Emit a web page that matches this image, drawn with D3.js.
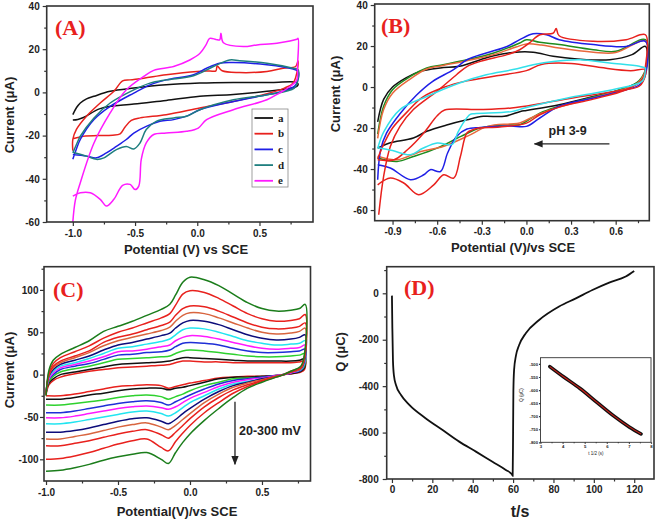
<!DOCTYPE html>
<html><head><meta charset="utf-8">
<script src="https://cdn.jsdelivr.net/npm/d3@7"></script>
<style>body{margin:0;background:#fff}</style>
</head><body>
<script>
// ================= DATA =================
// ---- Panel A : CVs of electrodes a-e  (potential V, current uA)
const aLabels = ["a","b","c","d","e"];
const aColors = ["#111111","#e8211d","#1f1fe6","#1f7f7f","#ff1aff"];
const aCurveA = [[-1.0,-10.3],[-0.97,-7],[-0.94,-4.9],[-0.89,-3],[-0.83,-1.8],[-0.70,0.5],[-0.51,2],[-0.25,3.5],[0.02,4.3],[0.29,4.6],[0.6,4.6],[0.80,4.6],[0.81,3.5],[0.79,2.5],[0.56,0.5],[0.29,-1],[0.02,-1.8],[-0.25,-3.7],[-0.51,-5.4],[-0.78,-7.5],[-0.91,-11.5],[-0.96,-12.5],[-1.0,-12.8]];
const aCurveB = [[-1.0,-21.5],[-0.9,-20.2],[-0.8,-20],[-0.68,-19.8],[-0.62,-19.2],[-0.58,-16],[-0.53,-13],[-0.46,-11.8],[-0.25,-10.3],[0.02,-7.2],[0.29,-4.2],[0.56,-0.6],[0.70,2],[0.77,4.3],[0.80,9],[0.81,14.6],[0.79,12],[0.69,11.2],[0.56,9.7],[0.34,9.2],[0.2,10],[0.16,12.2],[0.15,10],[0.1,9.9],[0.0,9.7],[-0.25,8.2],[-0.43,6.6],[-0.54,5.8],[-0.6,5.3],[-0.67,0.5],[-0.78,-4.9],[-0.89,-11],[-0.97,-17],[-1.0,-21.8],[-1.0,-27]];
const aCurveC = [[-1.0,-31],[-0.97,-26],[-0.94,-21.8],[-0.83,-12.6],[-0.70,-6.5],[-0.51,-0.3],[-0.38,3.5],[-0.25,5.8],[-0.03,8.2],[0.075,11.2],[0.18,13.5],[0.29,13.8],[0.56,12.8],[0.77,10.8],[0.81,9.7],[0.805,5],[0.78,2.8],[0.69,0.5],[0.56,-1.1],[0.29,-4.2],[0.02,-8],[-0.086,-11],[-0.19,-12.6],[-0.30,-13.4],[-0.41,-15.7],[-0.51,-18.8],[-0.57,-21.8],[-0.65,-25],[-0.73,-28],[-0.81,-30.3],[-0.89,-29.5],[-1.0,-28.8]];
const aCurveD = [[-1.0,-28],[-0.97,-24],[-0.94,-20.3],[-0.83,-11.8],[-0.70,-4.9],[-0.51,1.2],[-0.38,4.3],[-0.25,5.8],[-0.03,7.7],[0.13,12],[0.26,15],[0.34,14.7],[0.56,13.5],[0.77,11.2],[0.81,10.5],[0.805,5],[0.78,2],[0.56,-1.1],[0.29,-3.4],[0.02,-8],[-0.086,-11],[-0.19,-11.8],[-0.33,-13.4],[-0.41,-17.2],[-0.46,-23.4],[-0.51,-26.2],[-0.57,-25],[-0.65,-26.5],[-0.75,-30.3],[-0.81,-31],[-0.89,-29.5],[-1.0,-27.7]];
const aCurveE = [[-1.0,-60],[-0.98,-50],[-0.94,-41.8],[-0.83,-23.4],[-0.70,-9.5],[-0.57,1.2],[-0.43,7.4],[-0.35,10.2],[-0.19,12],[-0.06,15],[0.02,18],[0.07,22],[0.10,25],[0.15,24.5],[0.18,24.3],[0.19,27.4],[0.21,23],[0.37,21.2],[0.48,22],[0.64,22.8],[0.80,24.6],[0.81,25],[0.805,12],[0.80,5.8],[0.74,2.5],[0.66,-0.3],[0.56,-3.4],[0.29,-8],[0.075,-12.6],[0.008,-16.5],[-0.086,-18],[-0.25,-18.8],[-0.35,-19.5],[-0.41,-23.4],[-0.45,-31],[-0.47,-43.4],[-0.50,-45],[-0.54,-42.6],[-0.60,-43],[-0.67,-49.5],[-0.73,-52.6],[-0.78,-49.5],[-0.86,-46.5],[-0.94,-46.5],[-1.0,-48]];

// ---- Panel B : CVs at pH 3-9
const bColors = ["#111111","#1e8c1e","#e8683c","#1f1fe6","#e8211d","#e8211d","#33e0ea"];
const bBlack = [[-1.0,-17],[-0.96,-6],[-0.9,0],[-0.81,4.5],[-0.72,7.5],[-0.58,9.3],[-0.45,10.1],[-0.31,13.3],[-0.22,15.3],[-0.09,16.9],[0.045,17],[0.18,15],[0.34,13.7],[0.56,13.3],[0.71,15.8],[0.8,19.8],[0.8,7.6],[0.76,2.8],[0.63,-1.3],[0.45,-4.6],[0.22,-8.6],[0.0,-11.4],[-0.04,-11.9],[-0.15,-14.3],[-0.29,-14.3],[-0.4,-16],[-0.53,-18.4],[-0.67,-21.6],[-0.76,-24.9],[-0.92,-27.3],[-1.0,-29.8]];
const bGreen = [[-1.0,-23],[-0.96,-9.4],[-0.9,-1.3],[-0.78,5.2],[-0.67,9.3],[-0.56,10.9],[-0.4,13.3],[-0.22,16.6],[-0.045,21.5],[0.0,23.1],[0.09,21.8],[0.22,20.7],[0.45,18.2],[0.6,17.4],[0.8,23.1],[0.8,8.5],[0.74,2],[0.63,-1.3],[0.45,-4.9],[0.22,-9.4],[0.09,-12.7],[-0.045,-18.4],[-0.11,-18.4],[-0.31,-20],[-0.44,-24.1],[-0.6,-29.8],[-0.76,-33.9],[-0.87,-36.3],[-1.0,-34.6]];
const bCoral = [[-1.0,-25],[-0.96,-11],[-0.9,-3],[-0.78,4],[-0.67,8.8],[-0.56,10.5],[-0.4,12.8],[-0.22,15.8],[-0.07,19.5],[0.0,21],[0.1,20.5],[0.22,19],[0.45,17],[0.6,16.8],[0.8,22.5],[0.8,8],[0.74,1.5],[0.63,-1.6],[0.45,-5.2],[0.22,-9.8],[0.09,-13],[-0.045,-17.5],[-0.11,-18],[-0.26,-19.2],[-0.4,-24.1],[-0.56,-29],[-0.71,-31.4],[-0.87,-35.5],[-1.0,-33.8]];
const bBlue = [[-1.0,-45.2],[-0.98,-30.6],[-0.94,-22.4],[-0.85,-13],[-0.74,-4],[-0.63,2.8],[-0.49,8.5],[-0.4,13.3],[-0.27,16.6],[-0.13,19.8],[-0.045,23.1],[0.045,26],[0.135,25.5],[0.22,23.1],[0.45,20.7],[0.67,19.8],[0.8,22.3],[0.8,6],[0.76,1.1],[0.63,-2.1],[0.45,-5.4],[0.22,-9.4],[0.09,-15.1],[0.0,-19.2],[-0.11,-19],[-0.31,-19.7],[-0.4,-20.5],[-0.47,-24.1],[-0.53,-32.2],[-0.578,-41.2],[-0.646,-40.3],[-0.69,-42.8],[-0.78,-45.2],[-0.915,-39.5],[-1.0,-37.9]];
const bRedOuter = [[-0.993,-62.3],[-0.96,-43.6],[-0.915,-29],[-0.85,-19.2],[-0.76,-11],[-0.6,-2],[-0.47,6],[-0.4,10],[-0.31,12.5],[-0.13,15.8],[-0.045,18.2],[0.02,21.5],[0.09,25.5],[0.18,26.3],[0.2,28.5],[0.22,25],[0.45,22.3],[0.67,23.1],[0.8,25.5],[0.8,10],[0.78,3.6],[0.67,-1.3],[0.45,-5.9],[0.22,-9.8],[0.09,-13.5],[0.0,-17.6],[-0.18,-19.5],[-0.32,-20],[-0.36,-20.8],[-0.4,-22.4],[-0.444,-33.9],[-0.489,-44.4],[-0.556,-42.8],[-0.623,-47.7],[-0.724,-52.5],[-0.825,-46.8],[-0.915,-44.4],[-1.0,-47.7]];
const bRedInner = [[-1.0,-35],[-0.96,-28],[-0.9,-20],[-0.8,-12],[-0.7,-5],[-0.55,0],[-0.4,3],[-0.2,5.5],[0.0,8],[0.1,11],[0.3,11.5],[0.5,9.5],[0.7,8],[0.8,8.5],[0.8,6],[0.76,0.5],[0.6,-2],[0.3,-5.5],[0.1,-8],[-0.1,-10.2],[-0.3,-11],[-0.55,-11.2],[-0.6,-14],[-0.69,-22.4],[-0.8,-30.6],[-0.89,-35.5],[-1.0,-35.5]];
const bCyan = [[-1.0,-30],[-0.96,-22],[-0.85,-11],[-0.67,-4.6],[-0.45,2],[-0.27,6],[-0.09,8.5],[0.045,10.9],[0.18,12.5],[0.36,13.3],[0.56,11.7],[0.76,10.1],[0.8,9.3],[0.8,9],[0.78,3],[0.6,-1],[0.3,-5],[0.0,-10],[-0.1,-12],[-0.35,-13],[-0.38,-13.5],[-0.42,-17],[-0.46,-22],[-0.5,-28],[-0.6,-27.3],[-0.7,-30],[-0.78,-33],[-0.9,-31],[-1.0,-29.6]];

// ---- Panel C : scan rates 20-300 mV/s
const cColors = ["#e8211d","#111111","#2ed12e","#1f2fd6","#ff1aff","#22e5f0","#0c0c7a","#d8653f","#e8211d","#e8211d","#1b7d1b"];
const cUpperE = [-1.0,-0.98,-0.95,-0.9,-0.8,-0.7,-0.6,-0.5,-0.4,-0.3,-0.2,-0.14,-0.1,-0.05,0.0,0.1,0.2,0.3,0.4,0.5,0.6,0.7,0.76,0.8];
const cLowerE = [0.795,0.77,0.7,0.65,0.6,0.5,0.4,0.3,0.2,0.1,0.0,-0.05,-0.1,-0.15,-0.2,-0.3,-0.4,-0.5,-0.6,-0.7,-0.8,-0.9,-1.0];
const cUpperI = [
 [-24,-12,-7,-3,1,4,6,8,9,10,11,12,14,16,16,15,15,14,14,14,14,14,15,16],
 [-22,-10,-5,0,3,6,9,12,13,14,15,16,18,20,20,19,18,17,16,16,16,16,17,19],
 [-22,-8,-2,3,7,10,14,18,19,20,21,22,25,28,29,28,26,24,22,21,21,22,23,25],
 [-22,-6,0,6,10,13,18,23,24,26,27,29,33,37,38,37,35,31,28,26,26,27,28,30],
 [-22,-5,2,8,12,16,21,27,28,30,33,35,40,44,46,45,42,38,34,31,30,31,32,35],
 [-22,-3,4,10,14,19,25,31,33,36,39,42,47,53,55,54,50,45,40,37,35,36,37,40],
 [-22,-2,6,12,17,22,29,35,38,42,46,49,55,61,64,63,59,53,47,43,41,42,44,47],
 [-23,-1,8,14,20,26,34,40,44,48,52,56,63,70,73,72,67,61,55,50,48,49,51,55],
 [-23,0,10,16,22,28,38,44,48,53,58,62,70,78,81,80,75,68,61,56,54,55,57,61],
 [-24,2,13,20,27,34,43,50,55,61,67,72,82,95,99,97,90,81,72,66,63,64,66,71],
 [-25,5,17,24,32,40,51,57,63,70,77,83,94,109,115,112,105,95,85,78,75,76,78,83]
];
const cLowerI = [
 [6,3,1,0,-1,-2,-2,-3,-4,-7,-10,-12,-14,-16,-13,-12,-13,-14,-17,-20,-23,-25,-25],
 [8,4,1,0,-1,-2,-3,-3,-5,-9,-13,-15,-16,-18,-16,-16,-17,-19,-22,-24,-27,-29,-29],
 [10,5,2,0,-1,-3,-4,-5,-9,-13,-19,-23,-26,-29,-26,-24,-25,-27,-30,-32,-34,-36,-36],
 [12,5,2,0,-1,-3,-5,-7,-11,-17,-24,-28,-32,-36,-33,-31,-32,-34,-37,-40,-43,-45,-45],
 [13,6,2,0,-1,-4,-6,-9,-14,-21,-28,-33,-38,-41,-39,-37,-38,-40,-43,-46,-49,-51,-51],
 [14,6,3,0,-2,-5,-8,-11,-17,-25,-33,-39,-45,-49,-46,-43,-44,-47,-50,-53,-56,-58,-58],
 [16,7,3,0,-2,-5,-9,-13,-20,-29,-40,-46,-53,-58,-55,-51,-52,-55,-59,-63,-66,-68,-68],
 [18,7,3,0,-2,-6,-10,-15,-23,-33,-46,-53,-60,-65,-62,-57,-59,-62,-66,-70,-73,-76,-76],
 [20,8,3,0,-2,-7,-12,-18,-27,-38,-52,-60,-68,-75,-71,-65,-67,-70,-74,-78,-81,-84,-84],
 [22,9,4,0,-3,-8,-14,-22,-33,-45,-60,-69,-79,-90,-86,-76,-78,-82,-87,-92,-96,-99,-100],
 [24,10,4,0,-3,-9,-16,-27,-40,-54,-70,-80,-92,-105,-100,-92,-94,-97,-101,-106,-110,-113,-114]
];

// ---- Panel D : chronocoulometry Q vs t, inset Q vs t^1/2
const dTime   = [0, 0.2, 0.5, 1.0, 2.0, 4.5, 8.6, 16.8, 25.1, 33.3, 41.6, 49.8, 56.4, 59.4, 59.8, 60.0, 60.15, 60.5, 61.4, 63, 66.3, 72.9, 82.8, 91.1, 99.3, 107.6, 115.8, 120];
const dCharge = [-10, -150, -290, -355, -395, -438, -481, -539, -589, -639, -682, -726, -761, -780, -786, -600, -420, -330, -270, -223, -172, -115, -57, -22, 14, 46, 72, 96];
const insetT = [3.42, 4.04, 4.79, 5.54, 6.28, 7.03, 7.55];
const insetQ = [-510, -549, -594, -646, -697, -742, -768];

// ================= DRAWING =================
const svg = d3.select("body").append("svg").attr("width",656).attr("height",520).style("background","#fff");
const SANS = "'Liberation Sans', Arial, sans-serif";
const SERIF = "'Liberation Serif', 'Times New Roman', serif";

function styleAxis(sel, fs){
  sel.select(".domain").remove();
  sel.selectAll("line").attr("stroke","#333").attr("stroke-width",1.2);
  sel.selectAll("text").attr("font-family",SANS).attr("font-weight","bold").attr("font-size",fs).attr("fill","#222");
}

function makePanel(p){
  const x = d3.scaleLinear().domain(p.xDom).range([p.left,p.right]);
  const y = d3.scaleLinear().domain(p.yDom).range([p.bottom,p.top]);
  const g = svg.append("g");
  const fs = p.fs || 10, maj = p.maj || 4, min = p.min || 2.5;
  g.append("g").attr("transform",`translate(0,${p.bottom})`)
    .call(d3.axisBottom(x).tickValues(p.xMinor).tickSize(min).tickFormat("")).call(s=>styleAxis(s,fs));
  g.append("g").attr("transform",`translate(0,${p.bottom})`)
    .call(d3.axisBottom(x).tickValues(p.xMajor).tickSize(maj).tickPadding(p.xPad).tickFormat(p.xFmt)).call(s=>styleAxis(s,fs));
  g.append("g").attr("transform",`translate(${p.left},0)`)
    .call(d3.axisLeft(y).tickValues(p.yMinor).tickSize(min).tickFormat("")).call(s=>styleAxis(s,fs));
  g.append("g").attr("transform",`translate(${p.left},0)`)
    .call(d3.axisLeft(y).tickValues(p.yMajor).tickSize(maj).tickPadding(p.yPad).tickFormat(p.yFmt)).call(s=>styleAxis(s,fs));
  const plot = g.append("g");
  g.append("rect").attr("x",p.left).attr("y",p.top).attr("width",p.right-p.left).attr("height",p.bottom-p.top)
    .attr("fill","none").attr("stroke","#333").attr("stroke-width",p.frameW || 1.6);
  return {x,y,g,plot};
}
const f1 = d => d.toFixed(1);
const f0 = d => String(d);

function title(txt, x, y, size, rot){
  const t = svg.append("text").attr("font-family",SANS).attr("font-weight","bold").attr("font-size",size)
    .attr("fill","#222").attr("text-anchor","middle").text(txt);
  if(rot) t.attr("transform",`translate(${x},${y}) rotate(-90)`); else t.attr("x",x).attr("y",y);
}
function panelLabel(txt, x, y){
  svg.append("text").attr("x",x).attr("y",y).attr("font-family",SERIF).attr("font-weight","bold")
    .attr("font-size",22).attr("fill","#e8211d").text(txt);
}
const smooth = d3.curveCatmullRom.alpha(0.5);

// ---- Panel A
const A = makePanel({left:46.7,right:313,top:6,bottom:222,xDom:[-1.21,0.93],yDom:[-60,40],
  xMajor:[-1,-0.5,0,0.5],xMinor:[-0.75,-0.25,0.25,0.75],yMajor:[-60,-40,-20,0,20,40],yMinor:[-50,-30,-10,10,30],
  xFmt:f1,yFmt:f0,xPad:4,yPad:3});
const aLine = d3.line().x(d=>A.x(d[0])).y(d=>A.y(d[1])).curve(smooth);
[aCurveA,aCurveB,aCurveC,aCurveD,aCurveE].forEach((c,i)=>{
  A.plot.append("path").attr("d",aLine(c)).attr("fill","none").attr("stroke",aColors[i]).attr("stroke-width",1.5);
});
// legend
const lg = A.g.append("g");
lg.append("rect").attr("x",252).attr("y",109).attr("width",36).attr("height",78).attr("fill","#fff").attr("stroke","#888").attr("stroke-width",0.8);
aLabels.forEach((l,i)=>{
  const yy = 118 + i*15.7;
  lg.append("line").attr("x1",254.5).attr("x2",273).attr("y1",yy).attr("y2",yy).attr("stroke",aColors[i]).attr("stroke-width",1.8);
  lg.append("text").attr("x",278).attr("y",yy+3.5).attr("font-family",SERIF).attr("font-weight","bold").attr("font-size",11).attr("fill","#222").text(l);
});
title("Current (μA)",14,115,13,true);
title("Potential (V) vs SCE",186,254,13,false);
panelLabel("(A)",55,35);

// ---- Panel B
const B = makePanel({left:374.7,right:649.3,top:4,bottom:220.7,xDom:[-1.02,0.826],yDom:[-65.2,40.5],
  xMajor:[-0.9,-0.6,-0.3,0,0.3,0.6],xMinor:[-0.75,-0.45,-0.15,0.15,0.45,0.75],yMajor:[-60,-40,-20,0,20,40],yMinor:[-50,-30,-10,10,30],
  xFmt:f1,yFmt:f0,xPad:3,yPad:3});
const bLine = d3.line().x(d=>B.x(d[0])).y(d=>B.y(d[1])).curve(smooth);
[bBlack,bGreen,bCoral,bBlue,bRedOuter,bRedInner,bCyan].forEach((c,i)=>{
  B.plot.append("path").attr("d",bLine(c)).attr("fill","none").attr("stroke",bColors[i]).attr("stroke-width",1.5);
});
svg.append("defs").html(`<marker id="ah" viewBox="0 0 10 10" refX="9" refY="5" markerWidth="7" markerHeight="7" orient="auto-start-reverse"><path d="M0,1 L10,5 L0,9 z" fill="#222"/></marker>`);
B.g.append("line").attr("x1",B.x(0.558)).attr("x2",B.x(0.054)).attr("y1",B.y(-27.7)).attr("y2",B.y(-27.7))
  .attr("stroke","#222").attr("stroke-width",1.3).attr("marker-end","url(#ah)");
B.g.append("text").attr("x",548.5).attr("y",135).attr("font-family",SANS).attr("font-weight","bold").attr("font-size",12.5).attr("fill","#222").text("pH 3-9");
title("Current (μA)",340,94,13,true);
title("Potential (V)/vs SCE",513,252,13,false);
panelLabel("(B)",381,33);

// ---- Panel C
const C = makePanel({left:44,right:310.5,top:266.7,bottom:481,xDom:[-1.014,0.837],yDom:[-125.6,127.4],
  xMajor:[-1,-0.5,0,0.5],xMinor:[-0.75,-0.25,0.25,0.75],yMajor:[-100,-50,0,50,100],yMinor:[-75,-25,25,75,125],
  xFmt:f1,yFmt:f0,xPad:4,yPad:1.5});
const cLine = d3.line().x(d=>C.x(d[0])).y(d=>C.y(d[1])).curve(smooth);
cColors.forEach((col,i)=>{
  const pts = cUpperE.map((e,j)=>[e,cUpperI[i][j]]).concat(cLowerE.map((e,j)=>[e,cLowerI[i][j]]));
  C.plot.append("path").attr("d",cLine(pts)).attr("fill","none").attr("stroke",col).attr("stroke-width",1.5);
});
C.g.append("line").attr("x1",C.x(0.3125)).attr("x2",C.x(0.3125)).attr("y1",C.y(-31.9)).attr("y2",C.y(-105.8))
  .attr("stroke","#222").attr("stroke-width",1.3).attr("marker-end","url(#ah)");
C.g.append("text").attr("x",239).attr("y",435).attr("font-family",SANS).attr("font-weight","bold").attr("font-size",12.5).attr("fill","#222").text("20-300 mV");
title("Current (μA)",14,370,13,true);
title("Potential(V)/vs SCE",177,516,13,false);
panelLabel("(C)",53,297);

// ---- Panel D
const D = makePanel({left:386.7,right:654,top:266.7,bottom:479,xDom:[-2.6,129.8],yDom:[-800,114.6],
  xMajor:[0,20,40,60,80,100,120],xMinor:[10,30,50,70,90,110],yMajor:[-800,-600,-400,-200,0],yMinor:[-700,-500,-300,-100,100],
  xFmt:f0,yFmt:f0,xPad:3,yPad:4});
const dLine = d3.line().x((d,i)=>D.x(dTime[i])).y(d=>D.y(d)).curve(d3.curveMonotoneX);
D.plot.append("path").attr("d",dLine(dCharge)).attr("fill","none").attr("stroke","#111").attr("stroke-width",1.8);
title("Q (μC)",345,352,13,true);
title("t/s",520,517,16,false);
panelLabel("(D)",404,295);

// inset
const I = makePanel({left:540.5,right:651,top:357.7,bottom:442.3,xDom:[3,8],yDom:[-800,-476],
  xMajor:[3,4,5,6,7,8],xMinor:[3.5,4.5,5.5,6.5,7.5],yMajor:[-800,-750,-700,-650,-600,-550,-500],yMinor:[],
  xFmt:f0,yFmt:f0,xPad:1,yPad:1,fs:4.2,maj:1.5,min:1,frameW:0.9});
I.g.insert("rect",":first-child").attr("x",540.5).attr("y",357.7).attr("width",110.5).attr("height",84.6).attr("fill","#fff");
const iLine = d3.line().x((d,i)=>I.x(insetT[i])).y(d=>I.y(d)).curve(d3.curveMonotoneX);
I.plot.append("path").attr("d",iLine(insetQ)).attr("fill","none").attr("stroke","#111").attr("stroke-width",3.6).attr("stroke-linecap","round");
I.plot.append("path").attr("d",iLine(insetQ)).attr("fill","none").attr("stroke","#d0201a").attr("stroke-width",1.1);
svg.append("text").attr("transform","translate(522.5,395) rotate(-90)").attr("text-anchor","middle").attr("font-family",SANS)
  .attr("font-size",4.5).attr("fill","#222").text("Q (μC)");
svg.append("text").attr("x",596).attr("y",455).attr("text-anchor","middle").attr("font-family",SANS)
  .attr("font-size",4.5).attr("fill","#222").text("t 1/2 (s)");
</script>
</body></html>
